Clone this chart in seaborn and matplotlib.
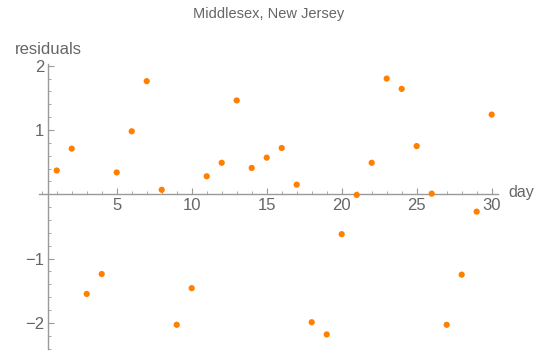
import matplotlib
matplotlib.use("Agg")
import matplotlib.pyplot as plt
import seaborn as sns
import pandas as pd
from matplotlib.ticker import MultipleLocator, FixedLocator
from matplotlib.transforms import Bbox

days = list(range(1, 31))
residuals = [0.37, 0.71, -1.55, -1.24, 0.34, 0.98, 1.76, 0.07, -2.03, -1.46,
             0.28, 0.49, 1.46, 0.41, 0.57, 0.72, 0.15, -1.99, -2.18, -0.62,
             -0.01, 0.49, 1.80, 1.64, 0.75, 0.01, -2.03, -1.25, -0.27, 1.24]
x_ticks = [5, 10, 15, 20, 25, 30]
y_ticks = [-2, -1, 1, 2]
title = "Middlesex, New Jersey"

df = pd.DataFrame({"day": days, "residual": residuals})

sns.set_style("white")
plt.rcParams['font.family'] = ['Liberation Sans', 'DejaVu Sans']

fig = plt.figure(figsize=(5.46, 3.54), dpi=100)
ax = fig.add_axes([0.0723, 0.0153, 0.8392, 0.8045])
sns.scatterplot(data=df, x="day", y="residual", ax=ax, color="#FF8000",
                s=20, edgecolor="none", clip_on=False, zorder=3)

ax.set_xlim(-0.15, 30.4)
ax.set_ylim(-2.4, 2.03)

axc = "#9a9a9a"
txtc = "#666666"
for s in ["top", "right"]:
    ax.spines[s].set_visible(False)
ax.spines["left"].set_position(("data", 0.44))
ax.spines["bottom"].set_position(("data", 0))
for s in ["left", "bottom"]:
    ax.spines[s].set_color(axc)
    ax.spines[s].set_linewidth(1.0)

ax.xaxis.set_major_locator(FixedLocator(x_ticks))
ax.yaxis.set_major_locator(FixedLocator(y_ticks))
ax.xaxis.set_minor_locator(MultipleLocator(1))
ax.yaxis.set_minor_locator(MultipleLocator(0.2))
ax.tick_params(axis="both", which="major", direction="in", length=4.5, width=0.8,
               color=axc, labelcolor=txtc, labelsize=12, pad=3)
ax.tick_params(axis="both", which="minor", direction="in", length=2.5, width=0.6,
               color=axc)
ax.tick_params(axis="x", which="both", bottom=True)
ax.tick_params(axis="y", which="both", left=True)
ax.set_xticklabels([str(t) for t in x_ticks])
ax.set_yticklabels(["\u2212" + str(-t) if t < 0 else str(t) for t in y_ticks])

ax.set_xlabel("")
ax.set_ylabel("")
fig.text(48 / 546, 1 - 50 / 354, "residuals", ha="center", va="center",
         fontsize=12, color=txtc)
dt = fig.text(508 / 546, 1 - 193 / 354, "days", ha="left", va="center",
              fontsize=11.6, color=txtc)
dt.set_clip_box(Bbox([[0, 0], [534, 354]]))
dt.set_clip_on(True)
fig.text(269 / 546, 1 - 14 / 354, title, ha="center", va="center",
         fontsize=10.5, color=txtc)

fig.savefig("out.png", dpi=100)
